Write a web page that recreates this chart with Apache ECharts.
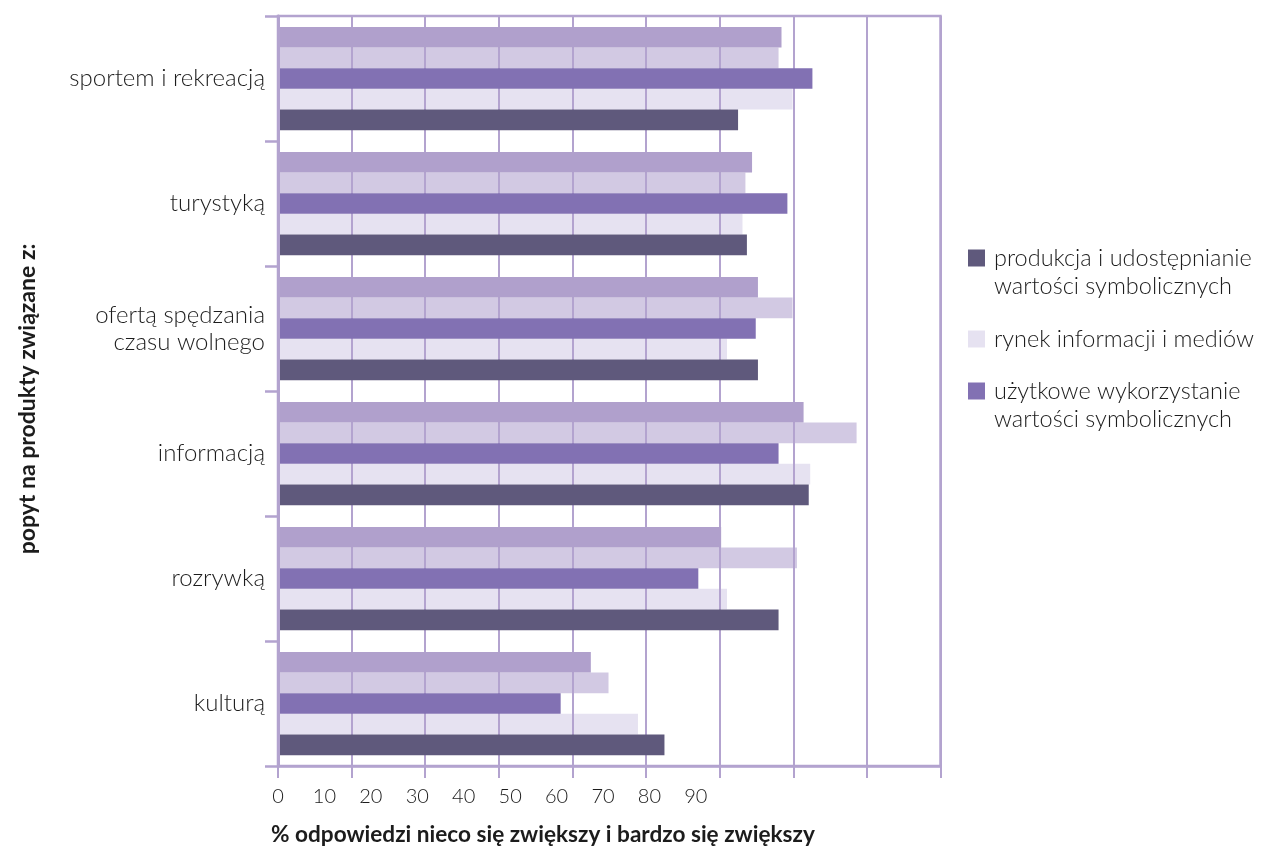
<!DOCTYPE html>
<html>
<head>
<meta charset="utf-8">
<script src="https://cdn.jsdelivr.net/npm/echarts@6/dist/echarts.min.js"></script>
<style>
  html, body { margin: 0; padding: 0; background: #ffffff; }
  #chart { width: 1263px; height: 848px; }
</style>
</head>
<body>
<div id="chart"></div>
<script>
// Categories (top to bottom)
const categories = [
  'sportem i rekreacją',
  'turystyką',
  'ofertą spędzania\nczasu wolnego',
  'informacją',
  'rozrywką',
  'kulturą'
];

// Series values, % of answers "nieco się zwiększy" + "bardzo się zwiększy"
const seriesTop      = [68.4, 64.4, 65.2, 71.4, 60.2, 42.5];
const seriesSecond   = [68.0, 63.5, 69.9, 78.6, 70.5, 44.9];
const uzytkowe       = [72.6, 69.2, 64.9, 68.0, 57.1, 38.4];
const rynek          = [69.9, 63.1, 61.0, 72.3, 61.0, 48.9];
const produkcja      = [62.5, 63.7, 65.2, 72.1, 68.0, 52.5];

// Tick labels printed under the value axis
const tickLabels = ['0', '10', '20', '30', '40', '50', '60', '70', '80', '90'];

const NAME_PRODUKCJA = 'produkcja i udostępnianie\nwartości symbolicznych';
const NAME_RYNEK = 'rynek informacji i mediów';
const NAME_UZYTKOWE = 'użytkowe wykorzystanie\nwartości symbolicznych';

const AXIS_COLOR = '#b3a3cf';
const TEXT_COLOR = '#1c1c1c';
const FONT = 'Lato';

const chart = echarts.init(document.getElementById('chart'), null, { renderer: 'canvas' });

function bar(name, data, color, z) {
  return {
    name: name,
    type: 'bar',
    data: data,
    z: z,
    barGap: '0%',
    barCategoryGap: '17.4%',
    itemStyle: { color: color },
    emphasis: { disabled: true },
    silent: true
  };
}

// One legend block per entry; two-line entries keep the swatch level with their first line
function legendFor(name, color, top, twoLines) {
  return {
    data: [{ name: name, icon: 'rect', itemStyle: { color: color } }],
    left: 968,
    top: top,
    padding: 0,
    itemWidth: 17,
    itemHeight: 17,
    itemGap: 0,
    selectedMode: false,
    formatter: function (n) { return twoLines ? '\n' + n : n; },
    textStyle: {
      fontFamily: FONT,
      fontWeight: 300,
      fontSize: 23.5,
      lineHeight: 28,
      color: TEXT_COLOR,
      padding: [0, 0, 0, 4]
    }
  };
}

const option = {
  animation: false,
  backgroundColor: '#ffffff',
  textStyle: { fontFamily: FONT },
  title: {
    text: '% odpowiedzi nieco się zwiększy i bardzo się zwiększy',
    left: 271,
    top: 823,
    padding: 0,
    textStyle: { fontFamily: FONT, fontWeight: 'bold', fontSize: 22.6, color: TEXT_COLOR }
  },
  legend: [
    legendFor(NAME_PRODUKCJA, '#5f597c', 216, true),
    legendFor(NAME_RYNEK, '#e6e2f1', 325, false),
    legendFor(NAME_UZYTKOWE, '#8271b3', 349, true)
  ],
  grid: {
    left: 278,
    right: 322.5,
    top: 16,
    bottom: 82,
    show: true,
    borderColor: AXIS_COLOR,
    borderWidth: 2.5,
    backgroundColor: 'transparent'
  },
  xAxis: [
    {
      type: 'value',
      min: 0,
      max: 90,
      interval: 10,
      z: 2,
      axisLine: { show: true, lineStyle: { color: AXIS_COLOR, width: 2.5 } },
      axisTick: { show: true, length: 12, lineStyle: { color: AXIS_COLOR, width: 2 } },
      splitLine: { show: true, lineStyle: { color: AXIS_COLOR, width: 2 } },
      axisLabel: { show: false }
    },
    {
      // label scale for the printed tick numbers
      type: 'value',
      position: 'bottom',
      min: 0,
      max: 142.7,
      interval: 10,
      axisLine: { show: false },
      axisTick: { show: false },
      splitLine: { show: false },
      axisLabel: {
        show: true,
        margin: 21,
        fontFamily: FONT,
        fontWeight: 300,
        fontSize: 20,
        color: TEXT_COLOR,
        showMaxLabel: false,
        formatter: function (value, index) {
          return tickLabels[index] !== undefined ? tickLabels[index] : '';
        }
      }
    }
  ],
  yAxis: {
    type: 'category',
    data: categories,
    inverse: true,
    z: 4,
    name: 'popyt na produkty związane z:',
    nameLocation: 'middle',
    nameRotate: 90,
    nameGap: 239,
    nameTextStyle: {
      fontFamily: FONT, fontWeight: 'bold', fontSize: 23, color: TEXT_COLOR,
      padding: [0, 16, 0, 0]
    },
    axisLine: { show: true, lineStyle: { color: AXIS_COLOR, width: 3 } },
    axisTick: { show: true, length: 13, lineStyle: { color: AXIS_COLOR, width: 2.5 } },
    splitLine: { show: false },
    axisLabel: {
      margin: 13,
      fontFamily: FONT,
      fontWeight: 300,
      fontSize: 24,
      lineHeight: 27,
      color: TEXT_COLOR
    }
  },
  series: [
    bar('grupa 1', seriesTop, '#b0a0cc', 3),
    bar('grupa 2', seriesSecond, '#d2c9e3', 1),
    bar(NAME_UZYTKOWE, uzytkowe, '#8271b3', 3),
    bar(NAME_RYNEK, rynek, '#e6e2f1', 1),
    bar(NAME_PRODUKCJA, produkcja, '#5f597c', 3)
  ]
};

chart.setOption(option);
</script>
</body>
</html>
